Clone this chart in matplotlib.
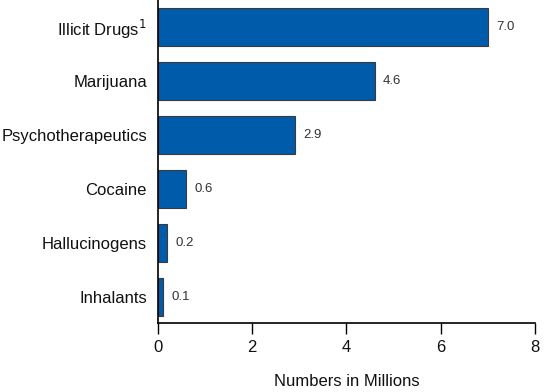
import matplotlib.pyplot as plt

categories = ["Illicit Drugs$^1$", "Marijuana", "Psychotherapeutics",
              "Cocaine", "Hallucinogens", "Inhalants"]
values = [7.0, 4.6, 2.9, 0.6, 0.2, 0.1]
value_labels = ["7.0", "4.6", "2.9", "0.6", "0.2", "0.1"]

plt.rcParams['font.family'] = ['Liberation Sans', 'DejaVu Sans']

fig = plt.figure(figsize=(5.55, 3.92), dpi=100)
ax = fig.add_axes([0.2847, 0.176, 0.679, 0.824])

pos = list(range(len(categories)))
ax.barh(pos, values, height=0.71, color='#005BAA', edgecolor='#3a3a3a', linewidth=0.8)

for p, v, lab in zip(pos, values, value_labels):
    ax.text(v + 0.18, p, lab, va='center', ha='left', fontsize=9.5, color='#333333')

ax.set_yticks(pos)
ax.set_yticklabels(categories, fontsize=12, color='#111111')
ax.set_ylim(5.48, -0.5)
ax.set_xlim(0, 8)
ax.set_xticks([0, 2, 4, 6, 8])
ax.tick_params(axis='x', labelsize=12, length=8, width=1, pad=4, labelcolor='#111111')
ax.tick_params(axis='y', length=0, pad=8)
ax.set_xlabel("Numbers in Millions", fontsize=12, labelpad=14, color='#111111')

ax.spines['top'].set_visible(False)
ax.spines['right'].set_visible(False)
ax.spines['left'].set_linewidth(1.2)
ax.spines['bottom'].set_linewidth(1.2)

plt.savefig("out.png", dpi=100)
